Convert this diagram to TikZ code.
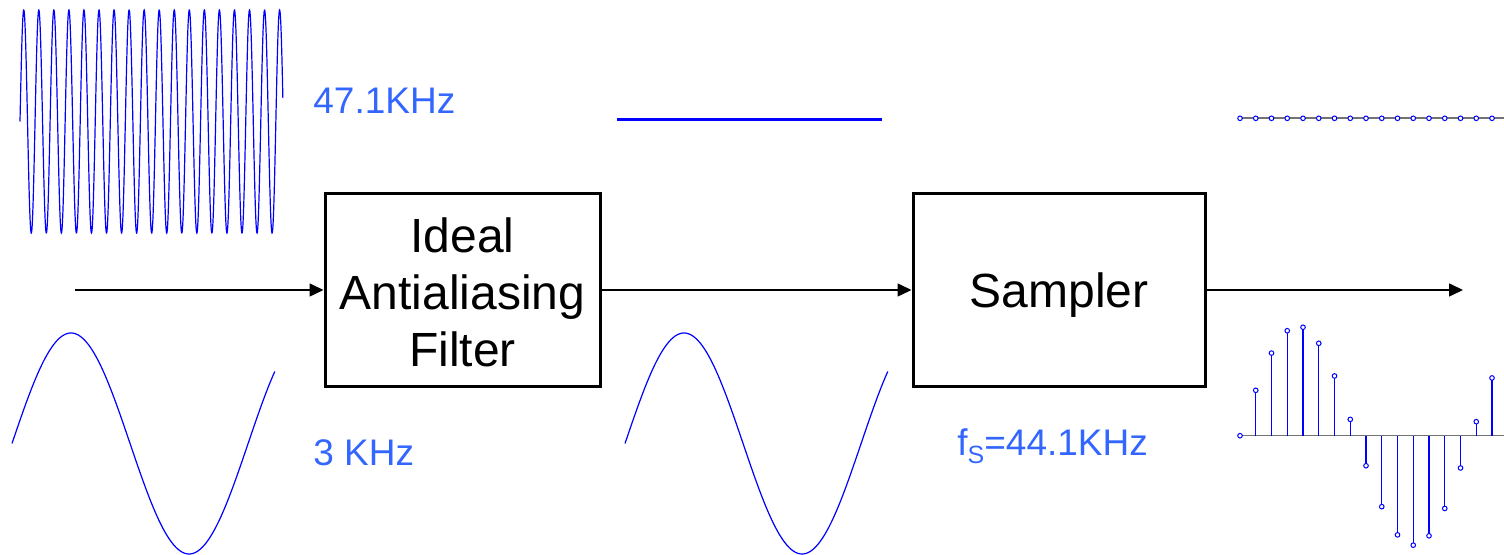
\documentclass[tikz,border=0pt]{standalone}
\usepackage{fontspec}
\setmainfont{Liberation Sans}
\usetikzlibrary{arrows.meta}
\definecolor{lblue}{RGB}{51,102,255}
\definecolor{wblue}{RGB}{0,0,255}
\newcommand{\lowerby}[2]{\raisebox{-#1}[\height][\depth]{#2}}
\begin{document}
\begin{tikzpicture}[x=0.5pt,y=-0.5pt,
  blockbox/.style={draw=black, line width=1.5pt, fill=white, align=center, inner sep=0pt,
                   font=\fontsize{24}{28.5}\selectfont},
  arr/.style={line width=0.75pt, -{Triangle[length=7pt,width=6.5pt]}},
  lbl/.style={text=lblue, anchor=west, inner sep=0pt, font=\fontsize{18.5}{20}\selectfont},
  wave/.style={wblue, line width=0.6pt},
  stem/.style={wblue, line width=0.6pt},
  dot/.style={wblue, line width=0.5pt, fill=white},
  axis/.style={black!55, line width=0.8pt}]
\useasboundingbox (0,0) rectangle (1504,555);

% fast sine 47.1 KHz
\draw[wave] plot[domain=0:1, samples=1200, smooth] ({20+263*\x},{121.5-111.5*sin(6291*\x)});
% slow sine 3 KHz (input)
\draw[wave] plot[domain=0:1, samples=300, smooth] ({12+263*\x},{443.5-110.5*sin(401*\x)});
% slow sine after filter
\draw[wave] plot[domain=0:1, samples=300, smooth] ({625+263*\x},{443.5-110.5*sin(401*\x)});
% filtered high-frequency component (zero)
\draw[wblue, line width=1.5pt] (617,120) -- (882,120);

% labels
\node[lbl] (l471) at (313,101) {47.1KHz};
\node[lbl] (l3) at (313,453) {3 KHz};
\node[lbl] (lfs) at (957,446) {f\raisebox{-4pt}{\fontsize{12.5}{13}\selectfont S}=44.1KHz};

% blocks
\node[blockbox, minimum width=137.5pt, minimum height=96.5pt] (filt) at (462.5,290) {\lowerby{1pt}{Ideal}\\\lowerby{1pt}{Antialiasing}\\\lowerby{1pt}{Filter}};
\node[blockbox, minimum width=146pt, minimum height=96.5pt] (samp) at (1059,290) {\lowerby{2.5pt}{Sampler}};

\coordinate (in) at (75,290);
\coordinate (out) at (1463,290);
\draw[arr] (in) -- (filt.west);
\draw[arr] (filt.east) -- (samp.west);
\draw[arr] (samp.east) -- (out);

% top discrete (zeros)
\draw[axis] (1240,118.3) -- (1504,118.3);
\foreach \n in {0,...,16} {
  \draw[dot] (1240+15.75*\n,118.3) circle[radius=1.15pt];
}
% bottom discrete samples
\draw[axis] (1240,435.7) -- (1504,435.7);
\foreach \n in {0,...,16} {
  \pgfmathsetmacro\v{109.5*sin(24.49*\n)}
  \draw[stem] (1240+15.75*\n,435.7) -- (1240+15.75*\n,435.7-\v);
  \draw[dot] (1240+15.75*\n,435.7-\v) circle[radius=1.15pt];
}
\end{tikzpicture}
\end{document}
